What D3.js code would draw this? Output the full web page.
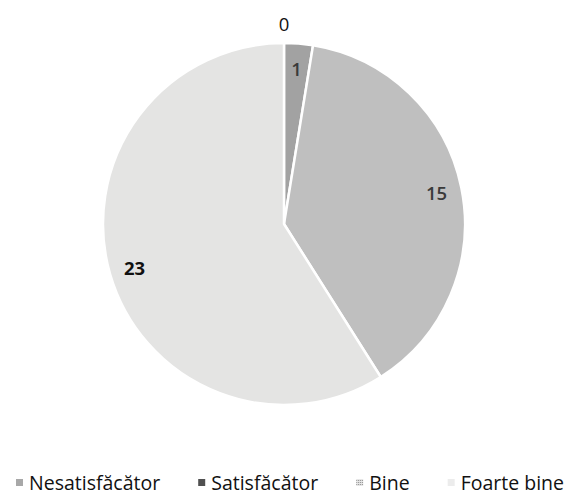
<!DOCTYPE html>
<html>
<head>
<meta charset="utf-8">
<script src="https://cdn.jsdelivr.net/npm/d3@7"></script>
<style>
  html, body { margin: 0; padding: 0; background: #fff; }
  svg { display: block; }
</style>
</head>
<body>
<svg id="chart" width="568" height="497"></svg>
<script>
const categories = ["Nesatisfăcător", "Satisfăcător", "Bine", "Foarte bine"];
const values = [0, 1, 15, 23];
const sliceColors = ["#a8a8a8", "#a2a2a2", "#bfbfbf", "#e4e4e3"];
const legendColors = ["#a8a8a8", "#505050", "#d0d0d0", "#ececec"];
const labelColors = ["#111111", "#3a3a3a", "#3a3a3a", "#111111"];

const W = 568, H = 497;
const cx = 284, cy = 224, R = 181;
const font = "'Open Sans', 'Liberation Sans', sans-serif";

const svg = d3.select("#chart");
const data = categories.map((c, i) => ({ cat: c, value: values[i], i }));

const pie = d3.pie().sort(null).value(d => d.value).startAngle(0).endAngle(2 * Math.PI);
const arcs = pie(data);
const arc = d3.arc().innerRadius(0).outerRadius(R);
const labelArc = d3.arc().innerRadius(R * 0.86).outerRadius(R * 0.86);
const outArc = d3.arc().innerRadius(R + 20).outerRadius(R + 20);

const g = svg.append("g").attr("transform", `translate(${cx},${cy})`);

g.selectAll("path.slice")
  .data(arcs.filter(d => d.data.value > 0))
  .join("path")
  .attr("class", "slice")
  .attr("d", arc)
  .attr("fill", d => sliceColors[d.data.i])
  .attr("stroke", "#ffffff")
  .attr("stroke-width", 2.5)
  .attr("stroke-linejoin", "round");

g.selectAll("text.lbl")
  .data(arcs)
  .join("text")
  .attr("class", "lbl")
  .attr("transform", d => {
    const p = d.data.value > 0 ? labelArc.centroid(d) : outArc.centroid(d);
    return `translate(${p[0]},${p[1]})`;
  })
  .attr("text-anchor", "middle")
  .attr("dominant-baseline", "central")
  .attr("font-family", font)
  .attr("font-size", 18.5)
  .attr("font-weight", d => d.data.value === 23 ? 700 : (d.data.value === 0 ? 400 : 600))
  .attr("fill", d => labelColors[d.data.i])
  .text(d => d.data.value);

// pattern for "Bine" legend marker
const defs = svg.append("defs");
const pat = defs.append("pattern").attr("id", "binePat").attr("width", 2).attr("height", 2)
  .attr("patternUnits", "userSpaceOnUse");
pat.append("rect").attr("width", 2).attr("height", 2).attr("fill", "#e6e6e6");
pat.append("rect").attr("width", 1).attr("height", 1).attr("fill", "#8a8a8a");

// legend
const legend = svg.append("g");
const ly = 482;
const items = legend.selectAll("g.item").data(data).join("g").attr("class", "item");
items.append("rect")
  .attr("width", 7).attr("height", 7)
  .attr("y", ly - 3)
  .attr("fill", (d, i) => i === 2 ? "url(#binePat)" : legendColors[i]);
items.append("text")
  .attr("x", 13)
  .attr("y", ly)
  .attr("dominant-baseline", "central")
  .attr("font-family", font)
  .attr("font-size", 19.5)
  .attr("fill", "#111")
  .text(d => d.cat);

const widths = [];
items.each(function() { widths.push(13 + d3.select(this).select("text").node().getComputedTextLength()); });
const left = 16, right = 564;
const gap = (right - left - d3.sum(widths)) / (widths.length - 1);
let x0 = left;
items.attr("transform", (d, i) => {
  const t = `translate(${x0},0)`;
  x0 += widths[i] + gap;
  return t;
});
</script>
</body>
</html>
